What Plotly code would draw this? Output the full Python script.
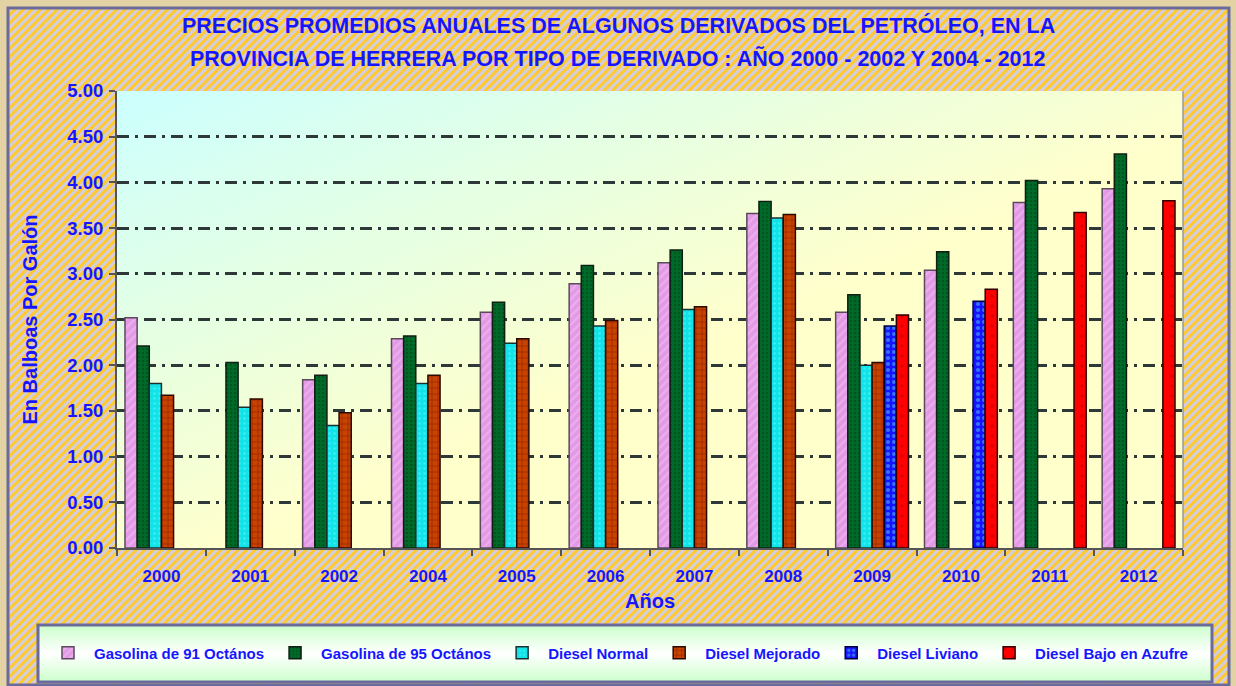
import base64
import plotly.graph_objects as go

# ---------------- data ----------------
years = ["2000", "2001", "2002", "2004", "2005", "2006", "2007", "2008", "2009", "2010", "2011", "2012"]
gasolina_91 = [2.52, None, 1.84, 2.29, 2.58, 2.89, 3.12, 3.66, 2.58, 3.04, 3.78, 3.93]
gasolina_95 = [2.21, 2.03, 1.89, 2.32, 2.69, 3.09, 3.26, 3.79, 2.77, 3.24, 4.02, 4.31]
diesel_normal = [1.80, 1.54, 1.34, 1.80, 2.24, 2.43, 2.61, 3.61, 2.00, None, None, None]
diesel_mejorado = [1.67, 1.63, 1.48, 1.89, 2.29, 2.49, 2.64, 3.65, 2.03, None, None, None]
diesel_liviano = [None, None, None, None, None, None, None, None, 2.43, 2.70, None, None]
diesel_bajo_azufre = [None, None, None, None, None, None, None, None, 2.55, 2.83, 3.67, 3.80]

series_names = ["Gasolina de 91 Octános", "Gasolina de 95 Octános", "Diesel Normal",
                "Diesel Mejorado", "Diesel Liviano", "Diesel Bajo en Azufre"]
series_values = [gasolina_91, gasolina_95, diesel_normal, diesel_mejorado,
                 diesel_liviano, diesel_bajo_azufre]

title_line1 = "PRECIOS PROMEDIOS ANUALES DE ALGUNOS DERIVADOS DEL PETRÓLEO, EN LA"
title_line2 = "PROVINCIA DE HERRERA POR TIPO DE DERIVADO : AÑO 2000 - 2002 Y 2004 - 2012"
x_title = "Años"
y_title = "En Balboas Por Galón"

# ---------------- styles ----------------
styles = [
    dict(color="#e39ae6", line="#5a4a5a", shape="/", fg="#f6c4f6", size=6, sol=0.35),
    dict(color="#006a28", line="#0f1f10", shape=".", fg="#00401a", size=4, sol=0.3),
    dict(color="#12e3e8", line="#1a3030", shape=".", fg="#5ffcff", size=5, sol=0.2),
    dict(color="#c84200", line="#2a0a00", shape="+", fg="#7a1500", size=6, sol=0.3),
    dict(color="#1414ff", line="#000040", shape=".", fg="#5ad2ff", size=6, sol=0.35),
    dict(color="#ff0000", line="#300000", shape=".", fg="#a00000", size=10, sol=0.08),
]

BLUE = "#1515ff"
FONT = "Liberation Sans, Arial, sans-serif"

W, H = 1236, 686
L, R, T, B = 117, 53, 91, 138
PW, PH = W - L - R, H - T - B


def px_x(px):
    return (px - L) / PW


def px_y(py):
    return (H - B - py) / PH


def svg_uri(svg):
    return "data:image/svg+xml;base64," + base64.b64encode(svg.encode("utf-8")).decode("ascii")


hatch_svg = (
    "<svg xmlns='http://www.w3.org/2000/svg' width='1220' height='677'>"
    "<defs><pattern id='h' width='6' height='6' patternUnits='userSpaceOnUse' patternTransform='rotate(45)'>"
    "<rect width='6' height='6' fill='#ffca2e'/><rect width='3' height='6' fill='#d4cde0'/></pattern></defs>"
    "<rect width='1220' height='677' fill='url(#h)'/></svg>"
)
plot_svg = (
    "<svg xmlns='http://www.w3.org/2000/svg' width='1066' height='457'>"
    "<defs><linearGradient id='g' x1='0' y1='0' x2='0.55' y2='0.55'>"
    "<stop offset='0' stop-color='#ccffff'/><stop offset='0.45' stop-color='#e2ffe6'/>"
    "<stop offset='1' stop-color='#ffffcc'/></linearGradient></defs>"
    "<rect width='1066' height='457' fill='url(#g)'/></svg>"
)
legend_svg = (
    "<svg xmlns='http://www.w3.org/2000/svg' width='1174' height='57'>"
    "<defs><linearGradient id='l' x1='0' y1='0' x2='0' y2='1'>"
    "<stop offset='0' stop-color='#ccffcc'/><stop offset='0.5' stop-color='#ffffff'/>"
    "<stop offset='1' stop-color='#ccffcc'/></linearGradient></defs>"
    "<rect width='1174' height='57' fill='url(#l)'/></svg>"
)

fig = go.Figure()
for name, vals, st in zip(series_names, series_values, styles):
    fig.add_trace(go.Bar(
        x=years, y=vals, name=name,
        marker=dict(
            color=st["color"],
            line=dict(color=st["line"], width=1.5),
            pattern=dict(shape=st["shape"], fgcolor=st["fg"], bgcolor=st["color"],
                         size=st["size"], solidity=st["sol"]),
        ),
    ))

images = [
    dict(source=svg_uri(hatch_svg), xref="paper", yref="paper",
         x=px_x(9), y=px_y(9), sizex=1220 / PW, sizey=677 / PH,
         sizing="stretch", layer="below", xanchor="left", yanchor="top"),
    dict(source=svg_uri(plot_svg), xref="paper", yref="paper",
         x=0, y=1, sizex=1, sizey=1, sizing="stretch", layer="below",
         xanchor="left", yanchor="top"),
    dict(source=svg_uri(legend_svg), xref="paper", yref="paper",
         x=px_x(38), y=px_y(625), sizex=1174 / PW, sizey=57 / PH,
         sizing="stretch", layer="below", xanchor="left", yanchor="top"),
]

shapes = [
    # outer frame
    dict(type="rect", xref="paper", yref="paper", x0=px_x(8), x1=px_x(1229),
         y0=px_y(685), y1=px_y(8), line=dict(color="#6b6b9b", width=3), fillcolor="rgba(0,0,0,0)"),
    # legend box
    dict(type="rect", xref="paper", yref="paper", x0=px_x(38), x1=px_x(1212),
         y0=px_y(682), y1=px_y(625), line=dict(color="#6b6b9b", width=3), fillcolor="rgba(0,0,0,0)"),
    # plot area right edge
    dict(type="line", xref="paper", yref="paper", x0=1, x1=1, y0=0, y1=1,
         line=dict(color="#9a9a9a", width=1.5)),
]

annotations = [
    dict(text=title_line1, xref="paper", yref="paper", x=px_x(618), y=px_y(26),
         showarrow=False, xanchor="center", yanchor="middle",
         font=dict(family=FONT, size=21.5, color=BLUE, weight="bold")),
    dict(text=title_line2, xref="paper", yref="paper", x=px_x(618), y=px_y(59),
         showarrow=False, xanchor="center", yanchor="middle",
         font=dict(family=FONT, size=21.5, color=BLUE, weight="bold")),
]

fig.update_layout(
    width=W, height=H,
    margin=dict(l=L, r=R, t=T, b=B, pad=0),
    paper_bgcolor="#e3d2a4",
    plot_bgcolor="rgba(0,0,0,0)",
    barmode="group",
    bargap=0.18,
    bargroupgap=0,
    images=images,
    shapes=shapes,
    annotations=annotations,
    font=dict(family=FONT, color=BLUE),
    showlegend=True,
    legend=dict(
        orientation="h", x=px_x(42), y=px_y(653), xanchor="left", yanchor="middle",
        bgcolor="rgba(0,0,0,0)", borderwidth=0, itemwidth=42,
        font=dict(family=FONT, size=15, color=BLUE, weight="bold"),
        traceorder="normal", itemclick=False,
    ),
    xaxis=dict(
        type="category", tickson="boundaries", ticks="outside", ticklen=6,
        tickcolor="#555555", tickwidth=1.5,
        showline=True, linecolor="#555555", linewidth=2,
        showgrid=False, ticklabelstandoff=12,
        tickfont=dict(family=FONT, size=17, color=BLUE, weight="bold"),
        title=dict(text=x_title, standoff=9,
                   font=dict(family=FONT, size=20, color=BLUE, weight="bold")),
    ),
    yaxis=dict(
        range=[0, 5], tick0=0, dtick=0.5, tickformat=".2f",
        ticks="outside", ticklen=6, tickcolor="#555555", tickwidth=1.5,
        showline=True, linecolor="#555555", linewidth=2,
        showgrid=True, gridcolor="#2e3838", gridwidth=2.5,
        griddash="12px,6px,3px,6px",
        zeroline=False, ticklabelstandoff=2,
        tickfont=dict(family=FONT, size=18.5, color=BLUE, weight="bold"),
        title=dict(text=y_title, standoff=24,
                   font=dict(family=FONT, size=20, color=BLUE, weight="bold")),
    ),
)

fig.write_html("out.html", config={"displayModeBar": False},
               post_script="document.body.style.margin='0px';")
